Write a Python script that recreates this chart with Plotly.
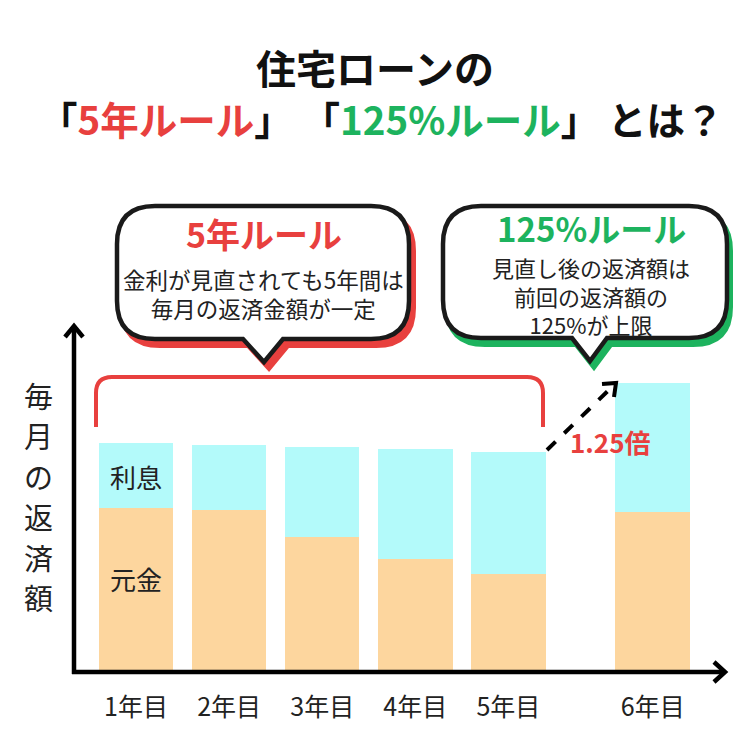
import plotly.graph_objects as go

# ---- data ----
years = ["1年目", "2年目", "3年目", "4年目", "5年目", "6年目"]
principal = [162, 160, 133, 111, 96, 158]   # 元金
interest = [65, 65, 90, 110, 122, 129]      # 利息

# layout constants (category slots on the numeric x axis; 6年目 sits after a gap)
slot = [1, 2, 3, 4, 5, 6.55]

RED = "#E8403E"
GREEN = "#1DB35E"
CYAN = "#B3FAFA"
PEACH = "#FDD69E"
INK = "#222222"
FONT = "Noto Sans CJK JP"

W, H, PLOT_H = 750, 750, 670


def X(px):
    return px / W


def Y(py):
    return (PLOT_H - py) / PLOT_H


def path(points_cmds):
    out = []
    for cmd, pts in points_cmds:
        coords = " ".join(f"{X(a):.5f},{Y(b):.5f}" for a, b in pts)
        out.append(f"{cmd} {coords}")
    return " ".join(out) + " Z"


def bubble(L, T, R, B, r, t1, tip, t2, dx=0, dy=0):
    L, R, t1, t2 = L + dx, R + dx, t1 + dx, t2 + dx
    T, B = T + dy, B + dy
    tx, ty = tip[0] + dx, tip[1] + dy
    return path([
        ("M", [(L + r, T)]),
        ("L", [(R - r, T)]),
        ("Q", [(R, T), (R, T + r)]),
        ("L", [(R, B - r)]),
        ("Q", [(R, B), (R - r, B)]),
        ("L", [(t2, B)]),
        ("L", [(tx, ty)]),
        ("L", [(t1, B)]),
        ("L", [(L + r, B)]),
        ("Q", [(L, B), (L, B - r)]),
        ("L", [(L, T + r)]),
        ("Q", [(L, T), (L + r, T)]),
    ])


def open_path(cmds):
    out = []
    for cmd, pts in cmds:
        coords = " ".join(f"{X(a):.5f},{Y(b):.5f}" for a, b in pts)
        out.append(f"{cmd} {coords}")
    return " ".join(out)


fig = go.Figure()
fig.add_trace(go.Bar(x=slot, y=principal, width=0.8, marker=dict(color=PEACH, line=dict(width=0)),
                     name="元金", hoverinfo="skip"))
fig.add_trace(go.Bar(x=slot, y=interest, width=0.8, marker=dict(color=CYAN, line=dict(width=0)),
                     name="利息", hoverinfo="skip"))

shapes = []
# speech bubbles with offset colored shadows
b1 = dict(L=117, T=206, R=409, B=339, r=38, t1=243, tip=(264, 362), t2=283)
b2 = dict(L=443, T=206, R=727, B=338, r=38, t1=572, tip=(590, 361), t2=607)
shapes.append(dict(type="path", xref="paper", yref="paper", path=bubble(**b1, dx=5, dy=7),
                   fillcolor=RED, line=dict(color=RED, width=4)))
shapes.append(dict(type="path", xref="paper", yref="paper", path=bubble(**b1),
                   fillcolor="white", line=dict(color="#1a1a1a", width=4.5)))
shapes.append(dict(type="path", xref="paper", yref="paper", path=bubble(**b2, dx=4, dy=7),
                   fillcolor=GREEN, line=dict(color=GREEN, width=4)))
shapes.append(dict(type="path", xref="paper", yref="paper", path=bubble(**b2),
                   fillcolor="white", line=dict(color="#1a1a1a", width=4.5)))

# red bracket over years 1-5
shapes.append(dict(type="path", xref="paper", yref="paper",
                   path=open_path([("M", [(96, 427)]), ("L", [(96, 393)]),
                                   ("Q", [(96, 377), (112, 377)]), ("L", [(527, 377)]),
                                   ("Q", [(543, 377), (543, 393)]), ("L", [(543, 427)])]),
                   line=dict(color=RED, width=4)))

# axes with arrow heads
shapes.append(dict(type="path", xref="paper", yref="paper",
                   path=open_path([("M", [(74, 674)]), ("L", [(74, 327)])]),
                   line=dict(color="black", width=4.5)))
shapes.append(dict(type="path", xref="paper", yref="paper",
                   path=open_path([("M", [(65, 337)]), ("L", [(74, 326)]), ("L", [(83, 337)])]),
                   line=dict(color="black", width=4.5)))
shapes.append(dict(type="path", xref="paper", yref="paper",
                   path=open_path([("M", [(72, 672)]), ("L", [(724, 672)])]),
                   line=dict(color="black", width=4.5)))
shapes.append(dict(type="path", xref="paper", yref="paper",
                   path=open_path([("M", [(714, 662)]), ("L", [(725, 672)]), ("L", [(714, 682)])]),
                   line=dict(color="black", width=4.5)))

# dashed arrow 1.25x
shapes.append(dict(type="path", xref="paper", yref="paper",
                   path=open_path([("M", [(547, 450)]), ("L", [(613, 386)])]),
                   line=dict(color="black", width=4, dash="dash")))
shapes.append(dict(type="path", xref="paper", yref="paper",
                   path=open_path([("M", [(602, 384)]), ("L", [(616, 383)]), ("L", [(614, 397)])]),
                   line=dict(color="black", width=4)))

annotations = []


def ann(text, px, py, size, color=INK, bold=False):
    annotations.append(dict(
        text=f"<b>{text}</b>" if bold else text,
        x=X(px), y=Y(py), xref="paper", yref="paper",
        xanchor="center", yanchor="middle", showarrow=False,
        font=dict(family=FONT, size=size, color=color)))


# title
ann("住宅ローンの", 375, 67, 40, "#111111", True)
ann(f"「<span style='color:{RED}'>5年ルール</span>」 「<span style='color:{GREEN}'>125%ルール</span>」 とは？",
    381, 118, 38.5, "#111111", True)

# bubble texts
ann("5年ルール", 264, 233, 34, RED, True)
ann("金利が見直されても5年間は<br>毎月の返済金額が一定", 263, 293, 22.5)
ann("125%ルール", 591, 228, 33, GREEN, True)
ann("見直し後の返済額は<br>前回の返済額の<br>125%が上限", 591, 295, 22)

# y label (vertical)
for i, ch in enumerate("毎月の返済額"):
    ann(ch, 38, 395 + i * 40.4, 29)

# stack labels
ann("利息", 136, 476, 26)
ann("元金", 136, 578, 26)

# 1.25x label
ann("1.25倍", 610, 441, 26, RED, True)

fig.update_layout(
    width=W, height=H,
    margin=dict(l=0, r=0, t=0, b=H - PLOT_H, pad=0),
    paper_bgcolor="white", plot_bgcolor="white",
    barmode="stack", showlegend=False,
    shapes=shapes, annotations=annotations,
    xaxis=dict(range=[1 - 136 / 93.1, 1 - 136 / 93.1 + 750 / 93.1],
               tickvals=slot, ticktext=years, ticks="outside", ticklen=15,
               tickcolor="rgba(0,0,0,0)", showgrid=False, zeroline=False, showline=False,
               tickfont=dict(family=FONT, size=25, color=INK), fixedrange=True),
    yaxis=dict(range=[0, PLOT_H], showticklabels=False, showgrid=False, zeroline=False,
               showline=False, fixedrange=True),
)

fig.write_html("out.html")
